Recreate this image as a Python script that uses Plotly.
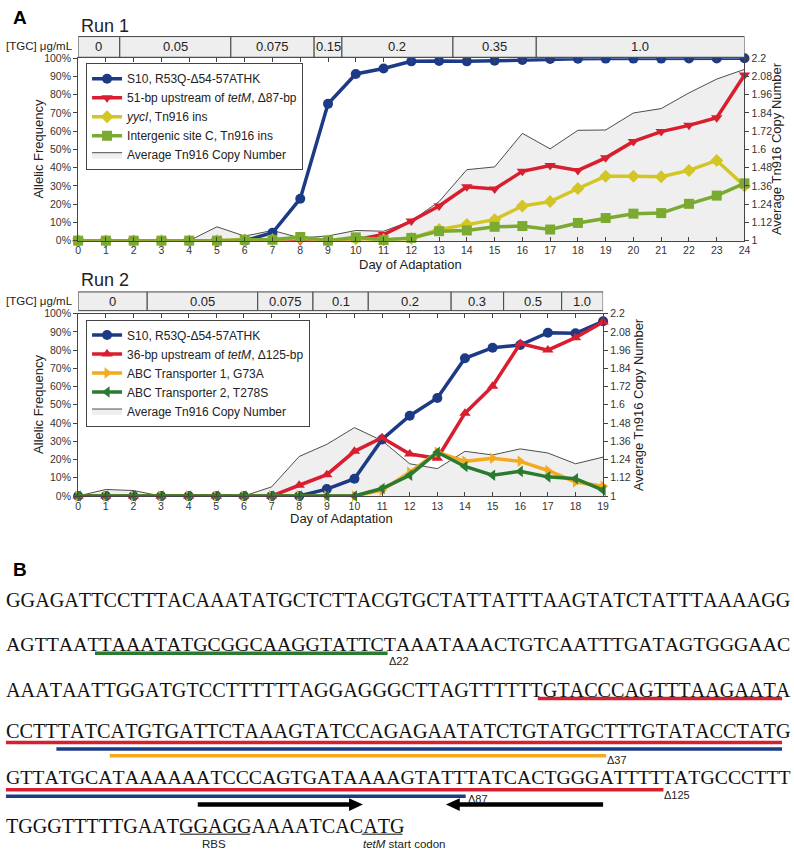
import plotly.graph_objects as go

W, H = 794, 853
def X(p): return p / W
def Y(p): return 1 - p / H

# ---------------- Run 1 data ----------------
days_run1 = list(range(25))
s10_run1 = [0, 0, 0, 0, 0, 0, 0, 4.3, 23, 75, 91.4, 94.4, 98.3, 98.5, 98.3, 98.6, 99, 99.6, 99.7, 99.8, 99.8, 99.8, 99.9, 99.9, 100]
tetm51_run1 = [0, 0, 0, 0, 0, 0, 0, 0, 0, 0, 0.5, 3.4, 10.8, 19, 29.5, 28.3, 38, 41.2, 38.5, 45.4, 54.4, 59.8, 63.2, 67.4, 90.8]
yyci_run1 = [0, 0, 0, 0, 0, 0, 0.5, 0.5, 1.5, 0, 1, 0.5, 1.2, 6.1, 8.8, 11.5, 19, 21.4, 28.6, 35.3, 35.3, 35, 38.5, 44, 30]
interc_run1 = [0, 0, 0, 0, 0, 0, 0.5, 0.5, 2, 0, 1.8, 0.3, 1.5, 5.2, 5.6, 7.6, 8, 6.1, 9.7, 12.4, 14.8, 15.1, 20.2, 24.7, 31.4]
copy_run1 = [1, 1, 1, 1, 1, 1.091, 1.03, 1.067, 1.018, 1.031, 1.067, 1.062, 1.13, 1.257, 1.467, 1.485, 1.706, 1.604, 1.726, 1.728, 1.84, 1.869, 1.972, 2.063, 2.127]
tgc_labels_run1 = ['0', '0.05', '0.075', '0.15', '0.2', '0.35', '1.0']
tgc_edges_run1 = [0, 1.5, 5.5, 8.5, 9.5, 13.5, 16.5, 24]

# ---------------- Run 2 data ----------------
days_run2 = list(range(20))
s10_run2 = [0, 0, 0, 0, 0, 0, 0, 0, 0, 3.8, 9.5, 31, 44, 53.7, 75.5, 81.3, 82.8, 89.5, 89.2, 95.8]
tetm36_run2 = [0, 0, 0, 0, 0, 0, 0, 0, 5.9, 11.7, 24.5, 32, 23, 20.7, 45.4, 60.2, 83.6, 80, 86.8, 95.4]
abc1_run2 = [0, 0, 0, 0, 0, 0, 0, 0, 0, 0, 0, 3.2, 13, 24, 19, 20.7, 19, 14, 7.7, 5.4]
abc2_run2 = [0, 0, 0, 0, 0, 0, 0, 0, 0, 0, 0, 4.1, 11.4, 24, 16.2, 11.4, 13.5, 10.5, 9.5, 3.2]
copy_run2 = [1, 1.043, 1.036, 1, 1, 1, 1, 1.06, 1.26, 1.34, 1.45, 1.364, 1.212, 1.18, 1.294, 1.27, 1.31, 1.283, 1.212, 1.256]
tgc_labels_run2 = ['0', '0.05', '0.075', '0.1', '0.2', '0.3', '0.5', '1.0']
tgc_edges_run2 = [0, 2.5, 6.5, 8.5, 10.5, 13.5, 15.4, 17.5, 19]

pct_ticks = [0, 10, 20, 30, 40, 50, 60, 70, 80, 90, 100]
pct_tick_text = ['0%', '10%', '20%', '30%', '40%', '50%', '60%', '70%', '80%', '90%', '100%']
copy_ticks = [1, 1.12, 1.24, 1.36, 1.48, 1.6, 1.72, 1.84, 1.96, 2.08, 2.2]
copy_tick_text = ['1', '1.12', '1.24', '1.36', '1.48', '1.6', '1.72', '1.84', '1.96', '2.08', '2.2']

# ---------------- Panel B sequence ----------------
seq_lines = [
    'GGAGATTCCTTTACAAATATGCTCTTACGTGCTATTATTTAAGTATCTATTTAAAAGG',
    'AGTTAATTAAATATGCGGCAAGGTATTCTAAATAAACTGTCAATTTGATAGTGGGAAC',
    'AAATAATTGGATGTCCTTTTTTAGGAGGGCTTAGTTTTTTGTACCCAGTTTAAGAATA',
    'CCTTTATCATGTGATTCTAAAGTATCCAGAGAATATCTGTATGCTTTGTATACCTATG',
    'GTTATGCATAAAAAATCCCAGTGATAAAAGTATTTATCACTGGGATTTTTATGCCCTTT',
    'TGGGTTTTTGAATGGAGGAAAATCACATG',
]

BLUE = '#1d3a86'
RED = '#d81e2f'
YEL = '#d3c624'
GRN1 = '#7aaa30'
ORG = '#f4aa1e'
GRN2 = '#2a7a30'
FILL = '#efefef'
SANS = 'Liberation Sans, Arial, sans-serif'
NARROW = 'Liberation Sans Narrow, Liberation Sans, Arial, sans-serif'
SERIF = 'Liberation Serif, Times New Roman, serif'

fig = go.Figure()

def series(x, y, name, color, symbol, xa, ya, leg):
    fig.add_trace(go.Scatter(
        x=x, y=y, name=name, mode='lines+markers',
        line=dict(color=color, width=3.5),
        marker=dict(symbol=symbol, size=10, color=color),
        xaxis=xa, yaxis=ya, legend=leg, cliponaxis=False))

def copy_area(x, y, xa, ya, leg):
    fig.add_trace(go.Scatter(
        x=x, y=y, name='Average Tn916 Copy Number', mode='lines',
        fill='tozeroy', fillcolor=FILL, line=dict(color='#222', width=0.8),
        xaxis=xa, yaxis=ya, legend=leg))

# Run 1
series(days_run1, s10_run1, 'S10, R53Q-Δ54-57ATHK', BLUE, 'circle', 'x', 'y2', 'legend')
series(days_run1, tetm51_run1, '51-bp upstream of <i>tetM</i>, Δ87-bp', RED, 'triangle-down', 'x', 'y2', 'legend')
series(days_run1, yyci_run1, '<i>yycI</i>, Tn916 ins', YEL, 'diamond', 'x', 'y2', 'legend')
series(days_run1, interc_run1, 'Intergenic site C, Tn916 ins', GRN1, 'square', 'x', 'y2', 'legend')
copy_area(days_run1, copy_run1, 'x', 'y', 'legend')

# Run 2
series(days_run2, s10_run2, 'S10, R53Q-Δ54-57ATHK', BLUE, 'circle', 'x2', 'y4', 'legend2')
series(days_run2, tetm36_run2, '36-bp upstream of <i>tetM</i>, Δ125-bp', RED, 'triangle-up', 'x2', 'y4', 'legend2')
series(days_run2, abc1_run2, 'ABC Transporter 1, G73A', ORG, 'triangle-right', 'x2', 'y4', 'legend2')
series(days_run2, abc2_run2, 'ABC Transporter 2, T278S', GRN2, 'triangle-left', 'x2', 'y4', 'legend2')
copy_area(days_run2, copy_run2, 'x2', 'y3', 'legend2')

tickfont = dict(family=NARROW, size=10.5, color='#333')
def xax(dom, rng, anchor):
    return dict(domain=dom, range=rng, anchor=anchor, tickmode='array',
                tickvals=list(range(int(rng[1]) + 1)), ticks='inside', ticklen=4,
                mirror='ticks', showline=True, linecolor='#444', linewidth=1,
                showgrid=False, zeroline=False, tickfont=tickfont, fixedrange=True)
def copyax(dom, anchor):
    return dict(domain=dom, range=[1, 2.2], anchor=anchor, side='right',
                tickmode='array', tickvals=copy_ticks, ticktext=copy_tick_text,
                ticks='outside', ticklen=4, showline=True, linecolor='#444',
                showgrid=False, zeroline=False, tickfont=tickfont)
def pctax(over, anchor):
    return dict(overlaying=over, anchor=anchor, side='left', range=[0, 100],
                tickmode='array', tickvals=pct_ticks, ticktext=pct_tick_text,
                ticks='outside', ticklen=4, showline=True, linecolor='#444',
                showgrid=False, zeroline=False, tickfont=tickfont)

r1_top, r1_bot = 53, 238
r2_top, r2_bot = 312, 497
legend_style = dict(xanchor='left', yanchor='top', bgcolor='white',
                    bordercolor='#444', borderwidth=1,
                    font=dict(family=SANS, size=12, color='#222'),
                    itemwidth=30, tracegroupgap=0)
fig.update_layout(
    width=W, height=H, margin=dict(l=0, r=0, t=0, b=0),
    paper_bgcolor='white', plot_bgcolor='rgba(0,0,0,0)',
    font=dict(family=SANS, color='#222'),
    xaxis=xax([X(76), X(750)], [0, 24], 'y'),
    yaxis=copyax([Y(r1_bot), Y(r1_top)], 'x'),
    yaxis2=pctax('y', 'x'),
    xaxis2=xax([X(76), X(607)], [0, 19], 'y3'),
    yaxis3=copyax([Y(r2_bot), Y(r2_top)], 'x2'),
    yaxis4=pctax('y3', 'x2'),
    legend=dict(x=X(84), y=Y(58), **legend_style),
    legend2=dict(x=X(84), y=Y(318), **legend_style),
    showlegend=True,
)

shapes = []
ann = []

def text(x, y, s, size=12, xanchor='center', yanchor='middle', family=SANS, angle=0, color='#222'):
    ann.append(dict(x=X(x), y=Y(y), xref='paper', yref='paper', text=s, showarrow=False,
                    xanchor=xanchor, yanchor=yanchor, textangle=angle,
                    font=dict(family=family, size=size, color=color)))

# Header concentration bars
def header(labels, edges, xref, ytop, ybot):
    for i, lab in enumerate(labels):
        shapes.append(dict(type='rect', xref=xref, yref='paper', x0=edges[i], x1=edges[i + 1],
                           y0=Y(ybot), y1=Y(ytop), fillcolor='#eeeeee',
                           line=dict(color='#444', width=1), layer='above'))
        ann.append(dict(x=(edges[i] + edges[i + 1]) / 2, y=Y((ytop + ybot) / 2), xref=xref, yref='paper',
                        text=lab, showarrow=False, xanchor='center', yanchor='middle',
                        font=dict(family=SANS, size=13, color='#222')))

header(tgc_labels_run1, tgc_edges_run1, 'x', 31, 52)
header(tgc_labels_run2, tgc_edges_run2, 'x2', 290, 309)

text(8, 12, '<b>A</b>', size=19, xanchor='left', color='#000')
text(77, 20, 'Run 1', size=18, xanchor='left')
text(77, 278, 'Run 2', size=18, xanchor='left')
text(73, 40.5, '[TGC] μg/mL', size=11.5, xanchor='right')
text(73, 299, '[TGC] μg/mL', size=11.5, xanchor='right')
text(36, 145, 'Allelic Frequency', size=13, angle=-90)
text(36, 404, 'Allelic Frequency', size=13, angle=-90)
text(783, 145, 'Average Tn916 Copy Number', size=13, angle=-90)
text(643, 404, 'Average Tn916 Copy Number', size=13, angle=-90)
text(412, 262, 'Day of Adaptation', size=13)
text(342, 520, 'Day of Adaptation', size=13)

# ---------------- Panel B ----------------
text(8, 572, '<b>B</b>', size=19, xanchor='left', color='#000')
EM = {'A': 0.722, 'C': 0.667, 'G': 0.722, 'T': 0.611}
line_y = [602, 647.5, 694, 735.5, 782, 832]
for i, s in enumerate(seq_lines):
    em = sum(EM[c] for c in s)
    fs = 785 / em if i < 5 else 20.1
    ann.append(dict(x=X(3), y=Y(line_y[i]), xref='paper', yref='paper',
                    text=f'<span style="font-kerning:none">{s}</span>', showarrow=False,
                    xanchor='left', yanchor='middle', xshift=-2,
                    font=dict(family=SERIF, size=fs, color='#111')))

def hline(x0, x1, y, color, w):
    shapes.append(dict(type='line', xref='paper', yref='paper', x0=X(x0), x1=X(x1), y0=Y(y), y1=Y(y),
                       line=dict(color=color, width=w)))

hline(93, 389, 656.5, GRN2, 3.5)
hline(541, 788, 702.5, RED, 3.5)
hline(3, 788, 747, RED, 3.5)
hline(54, 788, 753.5, BLUE, 3.5)
hline(108, 610, 760.5, ORG, 3.5)
hline(3, 668, 795, RED, 3.5)
hline(3, 468, 801.5, BLUE, 3.5)
hline(179, 250, 840, '#111', 1)
hline(363, 404, 840, '#111', 1)

# arrows
hline(197, 352, 810, '#000', 4.5)
shapes.append(dict(type='path', xref='paper', yref='paper', fillcolor='#000', line=dict(color='#000', width=0),
                   path=f'M {X(350)},{Y(803.5)} L {X(364)},{Y(810)} L {X(350)},{Y(816.5)} Z'))
hline(460, 607, 810, '#000', 4.5)
shapes.append(dict(type='path', xref='paper', yref='paper', fillcolor='#000', line=dict(color='#000', width=0),
                   path=f'M {X(462)},{Y(803.5)} L {X(448)},{Y(810)} L {X(462)},{Y(816.5)} Z'))

text(388, 664, 'Δ22', size=11, xanchor='left')
text(609, 765, 'Δ37', size=11, xanchor='left')
text(667, 800, 'Δ125', size=11, xanchor='left')
text(468, 804, 'Δ87', size=11, xanchor='left')
text(213, 850, 'RBS', size=11.5)
text(362, 850, '<i>tetM</i> start codon', size=11.5, xanchor='left')

fig.update_layout(shapes=shapes, annotations=ann)
fig.write_html('out.html', config={'displayModeBar': False},
               post_script="document.body.style.margin='0';")
